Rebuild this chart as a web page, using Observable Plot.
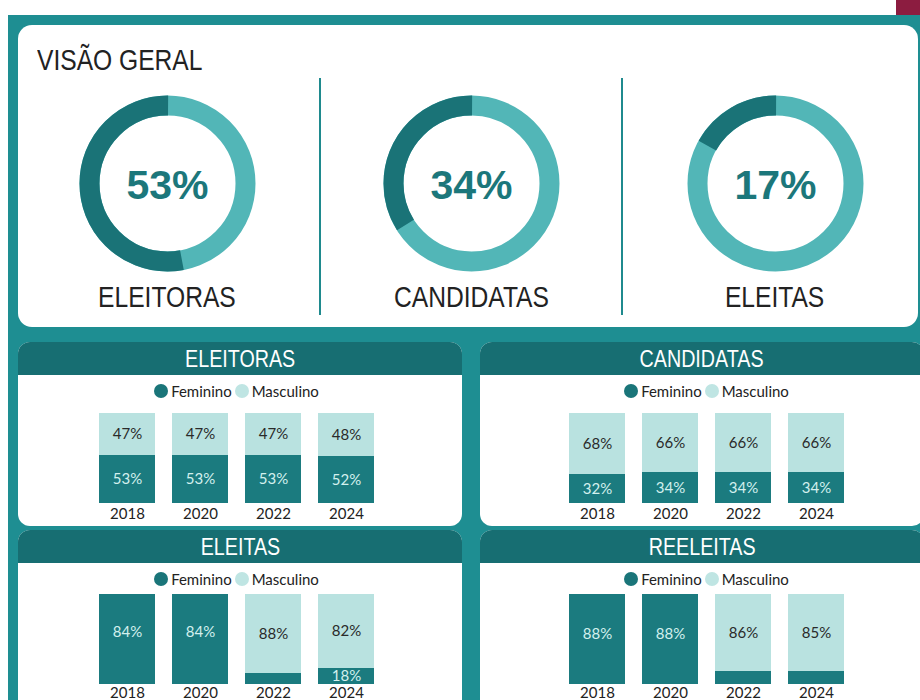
<!DOCTYPE html>
<html>
<head>
<meta charset="utf-8">
<script src="https://cdn.jsdelivr.net/npm/d3@7"></script>
<script src="https://cdn.jsdelivr.net/npm/@observablehq/plot@0.6"></script>
<style>
  html, body { margin: 0; padding: 0; }
  body { width: 920px; height: 700px; overflow: hidden; position: relative; background: #ffffff; font-family: "Liberation Sans", Arial, sans-serif; }
  .abs { position: absolute; }
  #bg { left: 8px; top: 15px; width: 912px; height: 685px; background: #1e8e92; }
  #maroon { left: 896px; top: 0; width: 24px; height: 15px; background: #8c1c40; }
  #toppanel { left: 18px; top: 25px; width: 900px; height: 302px; background: #fff; border-radius: 14px; }
  .title { font-family: "Liberation Sans", Arial, sans-serif; font-size: 30px; line-height: 30px; color: #222; white-space: nowrap; }
  .narrow { display: inline-block; transform: scaleX(0.82); }
  .sep { width: 2px; background: #1f8a8e; top: 78px; height: 237px; }
  .panel { width: 444px; border-radius: 12px; overflow: hidden; background: #fff; }
  .head { height: 33px; background: #176e72; color: #fff; text-align: center; font-family: "Liberation Sans", Arial, sans-serif; font-size: 24px; line-height: 33px; white-space: nowrap; }
  .legend { display: flex; justify-content: center; align-items: center; height: 18px; font-family: Lato, "Liberation Sans", sans-serif; font-size: 15px; color: #222; gap: 3px; }
  .legend .dot { width: 14px; height: 14px; border-radius: 50%; display: inline-block; margin-right: 3px; }
  .legend .item { display: flex; align-items: center; }
</style>
</head>
<body>
<script>
// ---------- DATA ----------
const overviewLabels = ["ELEITORAS", "CANDIDATAS", "ELEITAS"];
const overviewValues = [53, 34, 17];

const years = ["2018", "2020", "2022", "2024"];
const seriesNames = ["Feminino", "Masculino"];

const eleitorasFem = [53, 53, 53, 52];
const eleitorasMasc = [47, 47, 47, 48];
const candidatasFem = [32, 34, 34, 34];
const candidatasMasc = [68, 66, 66, 66];
const eleitasFem = [16, 16, 12, 18];
const eleitasMasc = [84, 84, 88, 82];
const reeleitasFem = [12, 12, 14, 15];
const reeleitasMasc = [88, 88, 86, 85];

// which Feminino values carry a printed label
const eleitorasFemLabeled = [true, true, true, true];
const candidatasFemLabeled = [true, true, true, true];
const eleitasFemLabeled = [false, false, false, true];
const reeleitasFemLabeled = [false, false, false, false];

// series colour the infographic used for the Masculino segment
const eleitorasMascShownAs = ["Masculino", "Masculino", "Masculino", "Masculino"];
const candidatasMascShownAs = ["Masculino", "Masculino", "Masculino", "Masculino"];
const eleitasMascShownAs = ["Feminino", "Feminino", "Masculino", "Masculino"];
const reeleitasMascShownAs = ["Feminino", "Feminino", "Masculino", "Masculino"];

const panelTitles = ["ELEITORAS", "CANDIDATAS", "ELEITAS", "REELEITAS"];

// ---------- STYLE ----------
const donutDark = "#1a7377", donutLight = "#52b6b7";
const barDark = "#1b7b7f", barLight = "#b9e2e0";
const onDark = "#d3f0ee", onLight = "#2a2a2a";

function el(tag, cls, css, parent) {
  const e = document.createElement(tag);
  if (cls) e.className = cls;
  Object.assign(e.style, css || {});
  (parent || document.body).appendChild(e);
  return e;
}
function narrowText(parent, text, origin) {
  const s = el("span", "narrow", { transformOrigin: origin }, parent);
  s.textContent = text;
  return s;
}

el("div", "abs", {}, document.body).id = "bg";
el("div", "abs", {}, document.body).id = "maroon";
el("div", "abs", {}).id = "toppanel";

const titleEl = el("div", "abs title", { left: "37px", top: "45px" });
narrowText(titleEl, "VISÃO GERAL", "left center");

[320, 622].forEach(x => el("div", "abs sep", { left: (x - 1) + "px" }));

const donutCx = [167, 471, 775], donutCy = 183;
overviewValues.forEach((v, i) => {
  const R = 78, C = 2 * Math.PI * R, p = v / 100;
  const chart = Plot.plot({
    width: 200, height: 200, margin: 0,
    style: { background: "transparent", overflow: "visible" },
    marks: [
      Plot.dot([v], { frameAnchor: "middle", r: R, stroke: donutLight, strokeWidth: 20, fill: "none" }),
      Plot.dot([v], { frameAnchor: "middle", r: R, stroke: donutDark, strokeWidth: 20, fill: "none",
        strokeDasharray: `${C * p} ${C * 2}`, strokeDashoffset: -C * (0.75 - p) }),
      Plot.text([v], { frameAnchor: "middle", text: d => d + "%", fontSize: 41, fontWeight: "bold",
        fill: "#1c777b", fontFamily: "Liberation Sans, Arial, sans-serif", dy: 2 })
    ]
  });
  const holder = el("div", "abs", { left: (donutCx[i] - 100) + "px", top: (donutCy - 100) + "px" });
  holder.appendChild(chart);
  const lab = el("div", "abs title", { left: (donutCx[i] - 150) + "px", width: "300px", textAlign: "center", top: "282px" });
  narrowText(lab, overviewLabels[i], "center center");
});

function rows(fem, masc, femLabeled, mascShownAs) {
  const out = [];
  years.forEach((y, i) => {
    out.push({ year: y, series: "Feminino", value: fem[i], shown: "Feminino", labeled: femLabeled[i] });
    out.push({ year: y, series: "Masculino", value: masc[i], shown: mascShownAs[i], labeled: true });
  });
  return out;
}

const panels = [
  { title: panelTitles[0], data: rows(eleitorasFem, eleitorasMasc, eleitorasFemLabeled, eleitorasMascShownAs), left: 18, top: 342, ml: 71, bodyH: 151 },
  { title: panelTitles[1], data: rows(candidatasFem, candidatasMasc, candidatasFemLabeled, candidatasMascShownAs), left: 480, top: 342, ml: 79, bodyH: 151 },
  { title: panelTitles[2], data: rows(eleitasFem, eleitasMasc, eleitasFemLabeled, eleitasMascShownAs), left: 18, top: 530, ml: 71, bodyH: 200 },
  { title: panelTitles[3], data: rows(reeleitasFem, reeleitasMasc, reeleitasFemLabeled, reeleitasMascShownAs), left: 480, top: 530, ml: 79, bodyH: 200 }
];

panels.forEach((pn, k) => {
  const box = el("div", "abs panel", { left: pn.left + "px", top: pn.top + "px", height: (33 + pn.bodyH) + "px" });
  const head = el("div", "head", {}, box);
  narrowText(head, pn.title, "center center");
  const row2 = k >= 2;
  const contentW = pn.ml * 2 + 295;
  const lg = el("div", "legend", { position: "absolute", left: "0", width: contentW + "px", top: (33 + 7) + "px" }, box);
  seriesNames.forEach((s, j) => {
    const it = el("span", "item", {}, lg);
    el("span", "dot", { background: j === 0 ? "#1a7579" : "#bfe5e3" }, it);
    const tx = el("span", "", {}, it);
    tx.textContent = s;
  });
  const plotTop = row2 ? 56 : 63;
  const labelText = shownAs => d => (d.labeled && d.shown === shownAs) ? d.value + "%" : null;
  const chart = Plot.plot({
    width: 444, height: 120,
    marginTop: 8, marginBottom: 22, marginLeft: pn.ml, marginRight: 444 - pn.ml - 295,
    x: { domain: years, paddingInner: 0.227, paddingOuter: 0.1135, label: null, tickSize: 0, tickPadding: row2 ? 3 : 5 },
    y: { domain: [0, 100], axis: null },
    color: { domain: seriesNames, range: [barDark, barLight] },
    style: { background: "transparent", overflow: "visible", fontFamily: "Lato, 'Liberation Sans', sans-serif", fontSize: "15px", color: "#222" },
    marks: [
      Plot.barY(pn.data, Plot.stackY({ x: "year", y: "value", fill: "shown", shapeRendering: "crispEdges" })),
      Plot.text(pn.data, Plot.stackY({ x: "year", y: "value", text: labelText("Feminino"), fill: onDark, fontSize: 15 })),
      Plot.text(pn.data, Plot.stackY({ x: "year", y: "value", text: labelText("Masculino"), fill: onLight, fontSize: 15 }))
    ]
  });
  const holder = el("div", "", { position: "absolute", left: "0", top: plotTop + "px" }, box);
  holder.appendChild(chart);
});
</script>
</body>
</html>
